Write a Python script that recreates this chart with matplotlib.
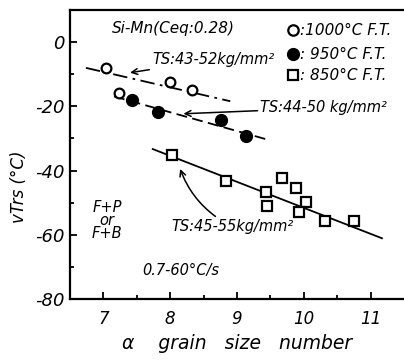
import matplotlib
matplotlib.use('Agg')
import matplotlib.pyplot as plt
import numpy as np

plt.rcParams['font.family'] = 'DejaVu Sans'
plt.rcParams['font.style'] = 'italic'

# 1000 C F.T. (open circles)
x_1000 = [7.04, 7.24, 8.0, 8.33]
y_1000 = [-8.0, -15.8, -12.4, -14.8]
fit_1000_x = [6.74, 8.9]
fit_1000_y = [-8.0, -18.4]

# 950 C F.T. (filled circles)
x_950 = [7.43, 7.82, 8.76, 9.14]
y_950 = [-18.1, -21.9, -24.4, -29.2]
fit_950_x = [7.16, 9.43]
fit_950_y = [-16.9, -30.2]

# 850 C F.T. (open squares)
x_850 = [8.03, 8.83, 9.43, 9.45, 9.68, 9.88, 10.03, 9.93, 10.32, 10.75]
y_850 = [-35.1, -43.4, -46.6, -51.0, -42.4, -45.5, -49.7, -52.8, -55.7, -55.7]
fit_850_x = [7.74, 11.17]
fit_850_y = [-33.3, -61.1]

xticks = [7, 8, 9, 10, 11]
yticks = [0, -20, -40, -60, -80]
legend_labels = [':1000\u00b0C F.T.', ': 950\u00b0C F.T.', ': 850\u00b0C F.T.']

fig = plt.figure(figsize=(4.04, 3.61), dpi=100)
ax = fig.add_axes([0.173, 0.172, 0.827, 0.80])

ax.plot(fit_1000_x, fit_1000_y, color='black', lw=1.3, ls=(0, (8, 3, 1.5, 3)), zorder=2)
ax.plot(fit_950_x, fit_950_y, color='black', lw=1.3, ls=(0, (6, 3)), zorder=2)
ax.plot(fit_850_x, fit_850_y, color='black', lw=1.3, ls='-', zorder=2)

ax.plot(x_1000, y_1000, 'o', ms=7, mfc='white', mec='black', mew=1.6, zorder=3)
ax.plot(x_950, y_950, 'o', ms=8.5, mfc='black', mec='black', zorder=3)
ax.plot(x_850, y_850, 's', ms=7, mfc='white', mec='black', mew=1.6, zorder=3)

ax.set_xlim(6.5, 11.5)
ax.set_ylim(-80, 10)
ax.set_xticks(xticks)
ax.set_xticklabels([str(t) for t in xticks], fontsize=12)
ax.set_yticks(yticks)
ax.set_yticklabels([str(t) for t in yticks], fontsize=13)
ax.set_xticks(np.arange(7.5, 11.5, 1), minor=True)
ax.set_yticks([-10, -30, -50, -70], minor=True)
ax.tick_params(which='both', direction='in', width=1.3)
ax.tick_params(which='major', length=5)
ax.tick_params(which='minor', length=3)
ax.tick_params(axis='x', pad=8)
ax.spines['right'].set_visible(False)
for s in ['left', 'bottom', 'top']:
    ax.spines[s].set_linewidth(1.6)

ax.set_xlabel('\u03b1    grain   size   number', fontsize=13.5, labelpad=4)
ax.set_ylabel('vTrs (\u00b0C)', fontsize=12, labelpad=2)
ax.yaxis.set_label_coords(-0.125, 0.39)

ax.text(0.125, 0.935, 'Si-Mn(Ceq:0.28)', transform=ax.transAxes, fontsize=11, va='center')

# legend: symbol + label
leg_y = [0.931, 0.848, 0.775]
ax.plot(0.668, leg_y[0], 'o', ms=7.5, mfc='white', mec='black', mew=1.6,
        transform=ax.transAxes, clip_on=False)
ax.plot(0.668, leg_y[1], 'o', ms=8.5, mfc='black', mec='black',
        transform=ax.transAxes, clip_on=False)
ax.plot(0.668, leg_y[2], 's', ms=7, mfc='white', mec='black', mew=1.6,
        transform=ax.transAxes, clip_on=False)
for yy, lab in zip(leg_y, legend_labels):
    ax.text(0.688, yy, lab, transform=ax.transAxes, fontsize=11, va='center')

ax.annotate('TS:43-52kg/mm\u00b2', xy=(7.4, -9.5), xytext=(7.73, -5.5),
            fontsize=10.5, va='center',
            arrowprops=dict(arrowstyle='->', color='black', lw=1.1, shrinkA=0, shrinkB=0))
ax.annotate('TS:44-50 kg/mm\u00b2', xy=(8.2, -22.3), xytext=(9.35, -20.5),
            fontsize=10.5, va='center',
            arrowprops=dict(arrowstyle='->', color='black', lw=1.1, shrinkA=0, shrinkB=0))
ax.annotate('TS:45-55kg/mm\u00b2', xy=(8.15, -39.5), xytext=(8.02, -57.5),
            fontsize=10.5, va='center',
            arrowprops=dict(arrowstyle='->', color='black', lw=1.1, shrinkA=0, shrinkB=0,
                            connectionstyle='arc3,rad=-0.2'))

ax.text(7.06, -55.5, 'F+P\nor\nF+B', fontsize=10.5, ha='center', va='center', linespacing=0.85)
ax.text(7.58, -71, '0.7-60\u00b0C/s', fontsize=10.5, va='center')

fig.savefig('out.png', dpi=100)
